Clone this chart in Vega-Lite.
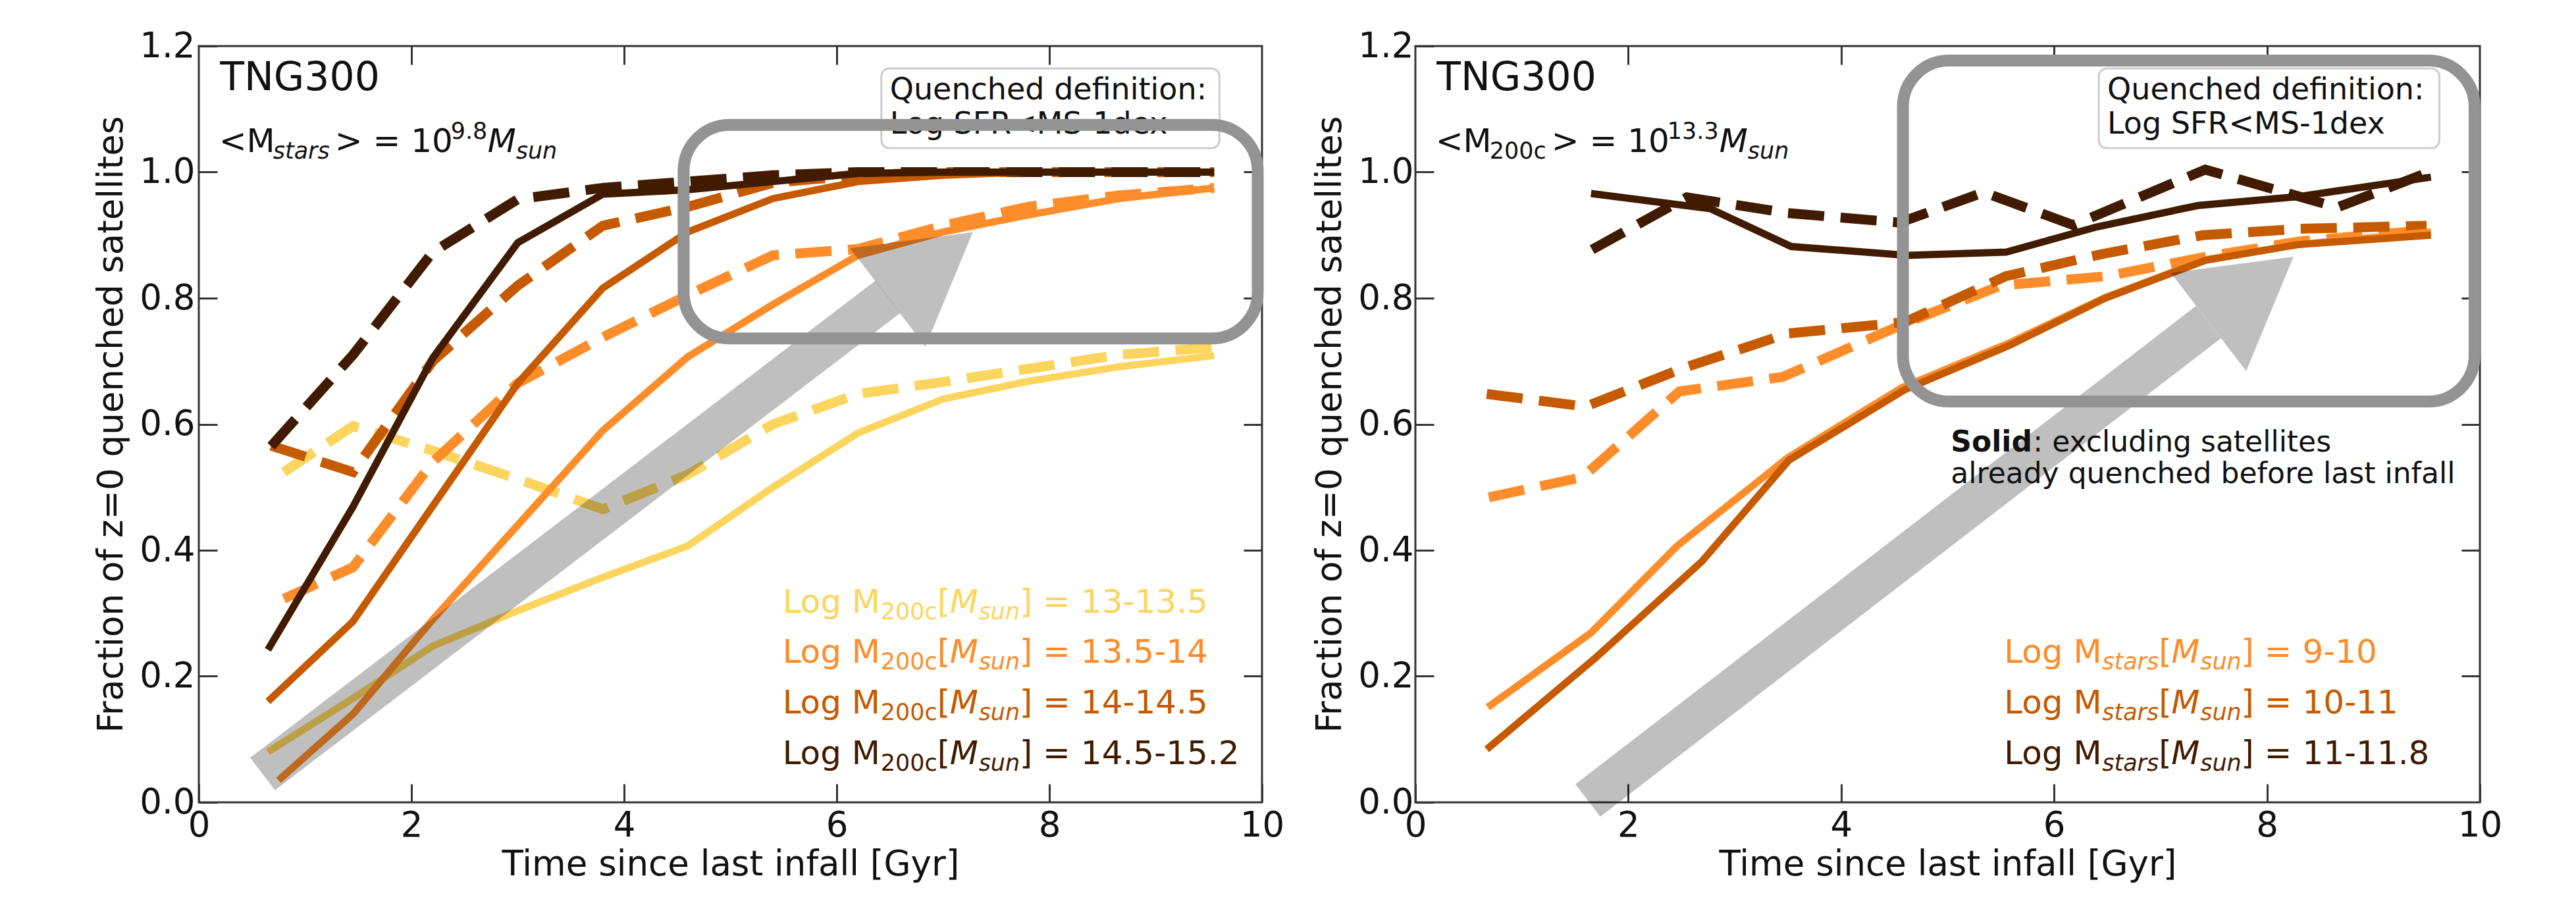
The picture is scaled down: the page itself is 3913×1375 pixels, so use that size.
{
"$schema": "https://vega.github.io/schema/vega-lite/v6.json",
"background": "white",
"padding": {"left": 142, "top": 42, "right": 10, "bottom": 5},
"autosize": {"type": "pad"},
"config": {
  "font": "DejaVu Sans",
  "view": {"stroke": "#333", "strokeWidth": 3},
  "axis": {"domain": false, "grid": false, "tickColor": "#333", "tickWidth": 3, "tickSize": -28,
           "labelFont": "DejaVu Sans", "labelFontSize": 53, "labelColor": "#111", "labelFlush": false, "labelOverlap": false, "labelBound": false,
           "titleFont": "DejaVu Sans", "titleFontSize": 53, "titleFontWeight": "normal", "titleColor": "#111"},
  "text": {"font": "DejaVu Sans", "align": "left", "baseline": "alphabetic", "color": "#111"}
},
"datasets": {
  "lines": [
    {"p":"L","g":"13-13.5","s":"solid","t":0.65,"f":0.08},{"p":"L","g":"13-13.5","s":"solid","t":1.45,"f":0.165},{"p":"L","g":"13-13.5","s":"solid","t":2.2,"f":0.248},{"p":"L","g":"13-13.5","s":"solid","t":3.0,"f":0.304},{"p":"L","g":"13-13.5","s":"solid","t":3.8,"f":0.357},{"p":"L","g":"13-13.5","s":"solid","t":4.6,"f":0.407},{"p":"L","g":"13-13.5","s":"solid","t":5.4,"f":0.5},{"p":"L","g":"13-13.5","s":"solid","t":6.2,"f":0.586},{"p":"L","g":"13-13.5","s":"solid","t":7.0,"f":0.64},{"p":"L","g":"13-13.5","s":"solid","t":7.8,"f":0.668},{"p":"L","g":"13-13.5","s":"solid","t":8.65,"f":0.691},{"p":"L","g":"13-13.5","s":"solid","t":9.55,"f":0.709},
    {"p":"L","g":"13-13.5","s":"dashed","t":0.8,"f":0.524},{"p":"L","g":"13-13.5","s":"dashed","t":1.45,"f":0.597},{"p":"L","g":"13-13.5","s":"dashed","t":2.2,"f":0.558},{"p":"L","g":"13-13.5","s":"dashed","t":3.0,"f":0.513},{"p":"L","g":"13-13.5","s":"dashed","t":3.8,"f":0.465},{"p":"L","g":"13-13.5","s":"dashed","t":4.6,"f":0.52},{"p":"L","g":"13-13.5","s":"dashed","t":5.4,"f":0.6},{"p":"L","g":"13-13.5","s":"dashed","t":6.2,"f":0.648},{"p":"L","g":"13-13.5","s":"dashed","t":7.0,"f":0.667},{"p":"L","g":"13-13.5","s":"dashed","t":7.8,"f":0.688},{"p":"L","g":"13-13.5","s":"dashed","t":8.65,"f":0.71},{"p":"L","g":"13-13.5","s":"dashed","t":9.55,"f":0.722},
    {"p":"L","g":"13.5-14","s":"solid","t":0.75,"f":0.035},{"p":"L","g":"13.5-14","s":"solid","t":1.45,"f":0.14},{"p":"L","g":"13.5-14","s":"solid","t":2.2,"f":0.29},{"p":"L","g":"13.5-14","s":"solid","t":3.0,"f":0.44},{"p":"L","g":"13.5-14","s":"solid","t":3.8,"f":0.59},{"p":"L","g":"13.5-14","s":"solid","t":4.6,"f":0.707},{"p":"L","g":"13.5-14","s":"solid","t":5.4,"f":0.79},{"p":"L","g":"13.5-14","s":"solid","t":6.2,"f":0.868},{"p":"L","g":"13.5-14","s":"solid","t":7.0,"f":0.905},{"p":"L","g":"13.5-14","s":"solid","t":7.8,"f":0.932},{"p":"L","g":"13.5-14","s":"solid","t":8.65,"f":0.958},{"p":"L","g":"13.5-14","s":"solid","t":9.55,"f":0.975},
    {"p":"L","g":"13.5-14","s":"dashed","t":0.8,"f":0.323},{"p":"L","g":"13.5-14","s":"dashed","t":1.45,"f":0.373},{"p":"L","g":"13.5-14","s":"dashed","t":2.2,"f":0.54},{"p":"L","g":"13.5-14","s":"dashed","t":3.0,"f":0.665},{"p":"L","g":"13.5-14","s":"dashed","t":3.8,"f":0.738},{"p":"L","g":"13.5-14","s":"dashed","t":4.6,"f":0.805},{"p":"L","g":"13.5-14","s":"dashed","t":5.4,"f":0.868},{"p":"L","g":"13.5-14","s":"dashed","t":6.2,"f":0.878},{"p":"L","g":"13.5-14","s":"dashed","t":7.0,"f":0.915},{"p":"L","g":"13.5-14","s":"dashed","t":7.8,"f":0.945},{"p":"L","g":"13.5-14","s":"dashed","t":8.65,"f":0.963},{"p":"L","g":"13.5-14","s":"dashed","t":9.55,"f":0.975},
    {"p":"L","g":"14-14.5","s":"solid","t":0.65,"f":0.16},{"p":"L","g":"14-14.5","s":"solid","t":1.45,"f":0.287},{"p":"L","g":"14-14.5","s":"solid","t":2.2,"f":0.47},{"p":"L","g":"14-14.5","s":"solid","t":3.0,"f":0.665},{"p":"L","g":"14-14.5","s":"solid","t":3.8,"f":0.816},{"p":"L","g":"14-14.5","s":"solid","t":4.6,"f":0.905},{"p":"L","g":"14-14.5","s":"solid","t":5.4,"f":0.958},{"p":"L","g":"14-14.5","s":"solid","t":6.2,"f":0.985},{"p":"L","g":"14-14.5","s":"solid","t":7.0,"f":0.995},{"p":"L","g":"14-14.5","s":"solid","t":7.8,"f":1.0},{"p":"L","g":"14-14.5","s":"solid","t":8.65,"f":1.0},{"p":"L","g":"14-14.5","s":"solid","t":9.55,"f":1.0},
    {"p":"L","g":"14-14.5","s":"dashed","t":0.68,"f":0.566},{"p":"L","g":"14-14.5","s":"dashed","t":1.45,"f":0.524},{"p":"L","g":"14-14.5","s":"dashed","t":2.2,"f":0.7},{"p":"L","g":"14-14.5","s":"dashed","t":3.0,"f":0.82},{"p":"L","g":"14-14.5","s":"dashed","t":3.8,"f":0.915},{"p":"L","g":"14-14.5","s":"dashed","t":4.6,"f":0.945},{"p":"L","g":"14-14.5","s":"dashed","t":5.4,"f":0.983},{"p":"L","g":"14-14.5","s":"dashed","t":6.2,"f":0.995},{"p":"L","g":"14-14.5","s":"dashed","t":7.0,"f":1.0},{"p":"L","g":"14-14.5","s":"dashed","t":7.8,"f":1.0},{"p":"L","g":"14-14.5","s":"dashed","t":8.65,"f":1.0},{"p":"L","g":"14-14.5","s":"dashed","t":9.55,"f":1.0},
    {"p":"L","g":"14.5-15.2","s":"solid","t":0.65,"f":0.242},{"p":"L","g":"14.5-15.2","s":"solid","t":1.45,"f":0.469},{"p":"L","g":"14.5-15.2","s":"solid","t":2.2,"f":0.705},{"p":"L","g":"14.5-15.2","s":"solid","t":3.0,"f":0.888},{"p":"L","g":"14.5-15.2","s":"solid","t":3.8,"f":0.965},{"p":"L","g":"14.5-15.2","s":"solid","t":4.6,"f":0.972},{"p":"L","g":"14.5-15.2","s":"solid","t":5.4,"f":0.985},{"p":"L","g":"14.5-15.2","s":"solid","t":6.2,"f":0.998},{"p":"L","g":"14.5-15.2","s":"solid","t":7.0,"f":1.0},{"p":"L","g":"14.5-15.2","s":"solid","t":7.8,"f":1.0},{"p":"L","g":"14.5-15.2","s":"solid","t":8.65,"f":1.0},{"p":"L","g":"14.5-15.2","s":"solid","t":9.55,"f":1.0},
    {"p":"L","g":"14.5-15.2","s":"dashed","t":0.68,"f":0.565},{"p":"L","g":"14.5-15.2","s":"dashed","t":1.45,"f":0.71},{"p":"L","g":"14.5-15.2","s":"dashed","t":2.2,"f":0.873},{"p":"L","g":"14.5-15.2","s":"dashed","t":3.0,"f":0.957},{"p":"L","g":"14.5-15.2","s":"dashed","t":3.8,"f":0.975},{"p":"L","g":"14.5-15.2","s":"dashed","t":4.6,"f":0.985},{"p":"L","g":"14.5-15.2","s":"dashed","t":5.4,"f":0.995},{"p":"L","g":"14.5-15.2","s":"dashed","t":6.2,"f":1.0},{"p":"L","g":"14.5-15.2","s":"dashed","t":7.0,"f":1.0},{"p":"L","g":"14.5-15.2","s":"dashed","t":7.8,"f":1.0},{"p":"L","g":"14.5-15.2","s":"dashed","t":8.65,"f":1.0},{"p":"L","g":"14.5-15.2","s":"dashed","t":9.55,"f":1.0},
    {"p":"R","g":"9-10","s":"solid","t":0.68,"f":0.151},{"p":"R","g":"9-10","s":"solid","t":1.65,"f":0.269},{"p":"R","g":"9-10","s":"solid","t":2.46,"f":0.407},{"p":"R","g":"9-10","s":"solid","t":3.5,"f":0.547},{"p":"R","g":"9-10","s":"solid","t":4.57,"f":0.658},{"p":"R","g":"9-10","s":"solid","t":5.58,"f":0.729},{"p":"R","g":"9-10","s":"solid","t":6.48,"f":0.801},{"p":"R","g":"9-10","s":"solid","t":7.42,"f":0.861},{"p":"R","g":"9-10","s":"solid","t":8.29,"f":0.885},{"p":"R","g":"9-10","s":"solid","t":9.54,"f":0.905},
    {"p":"R","g":"10-11","s":"solid","t":0.67,"f":0.084},{"p":"R","g":"10-11","s":"solid","t":1.69,"f":0.229},{"p":"R","g":"10-11","s":"solid","t":2.69,"f":0.382},{"p":"R","g":"10-11","s":"solid","t":3.51,"f":0.543},{"p":"R","g":"10-11","s":"solid","t":4.6,"f":0.655},{"p":"R","g":"10-11","s":"solid","t":5.58,"f":0.725},{"p":"R","g":"10-11","s":"solid","t":6.48,"f":0.8},{"p":"R","g":"10-11","s":"solid","t":7.42,"f":0.86},{"p":"R","g":"10-11","s":"solid","t":8.29,"f":0.885},{"p":"R","g":"10-11","s":"solid","t":9.54,"f":0.9},
    {"p":"R","g":"9-10","s":"dashed","t":0.69,"f":0.484},{"p":"R","g":"9-10","s":"dashed","t":1.57,"f":0.516},{"p":"R","g":"9-10","s":"dashed","t":2.48,"f":0.652},{"p":"R","g":"9-10","s":"dashed","t":3.45,"f":0.675},{"p":"R","g":"9-10","s":"dashed","t":4.6,"f":0.76},{"p":"R","g":"9-10","s":"dashed","t":5.5,"f":0.82},{"p":"R","g":"9-10","s":"dashed","t":6.5,"f":0.835},{"p":"R","g":"9-10","s":"dashed","t":7.4,"f":0.865},{"p":"R","g":"9-10","s":"dashed","t":8.3,"f":0.89},{"p":"R","g":"9-10","s":"dashed","t":9.5,"f":0.908},
    {"p":"R","g":"10-11","s":"dashed","t":0.67,"f":0.648},{"p":"R","g":"10-11","s":"dashed","t":1.6,"f":0.628},{"p":"R","g":"10-11","s":"dashed","t":2.5,"f":0.688},{"p":"R","g":"10-11","s":"dashed","t":3.5,"f":0.744},{"p":"R","g":"10-11","s":"dashed","t":4.6,"f":0.762},{"p":"R","g":"10-11","s":"dashed","t":5.55,"f":0.835},{"p":"R","g":"10-11","s":"dashed","t":6.45,"f":0.87},{"p":"R","g":"10-11","s":"dashed","t":7.4,"f":0.9},{"p":"R","g":"10-11","s":"dashed","t":8.3,"f":0.91},{"p":"R","g":"10-11","s":"dashed","t":9.5,"f":0.915},
    {"p":"R","g":"11-11.8","s":"solid","t":1.65,"f":0.966},{"p":"R","g":"11-11.8","s":"solid","t":2.77,"f":0.942},{"p":"R","g":"11-11.8","s":"solid","t":3.53,"f":0.882},{"p":"R","g":"11-11.8","s":"solid","t":4.62,"f":0.868},{"p":"R","g":"11-11.8","s":"solid","t":5.55,"f":0.873},{"p":"R","g":"11-11.8","s":"solid","t":6.4,"f":0.913},{"p":"R","g":"11-11.8","s":"solid","t":7.35,"f":0.947},{"p":"R","g":"11-11.8","s":"solid","t":8.29,"f":0.961},{"p":"R","g":"11-11.8","s":"solid","t":9.54,"f":0.992},
    {"p":"R","g":"11-11.8","s":"dashed","t":1.66,"f":0.877},{"p":"R","g":"11-11.8","s":"dashed","t":2.55,"f":0.96},{"p":"R","g":"11-11.8","s":"dashed","t":3.5,"f":0.935},{"p":"R","g":"11-11.8","s":"dashed","t":4.55,"f":0.92},{"p":"R","g":"11-11.8","s":"dashed","t":5.34,"f":0.968},{"p":"R","g":"11-11.8","s":"dashed","t":6.18,"f":0.916},{"p":"R","g":"11-11.8","s":"dashed","t":7.42,"f":1.004},{"p":"R","g":"11-11.8","s":"dashed","t":8.66,"f":0.944},{"p":"R","g":"11-11.8","s":"dashed","t":9.52,"f":1.0}
  ],
  "legL": [
    {"g":"13-13.5","x":5.49,"y":0.301,"l1":"Log M","l2":"200c","l3":"[","l4":"M","l5":"sun","l6":"] = 13-13.5"},
    {"g":"13.5-14","x":5.49,"y":0.2214,"l1":"Log M","l2":"200c","l3":"[","l4":"M","l5":"sun","l6":"] = 13.5-14"},
    {"g":"14-14.5","x":5.49,"y":0.141,"l1":"Log M","l2":"200c","l3":"[","l4":"M","l5":"sun","l6":"] = 14-14.5"},
    {"g":"14.5-15.2","x":5.49,"y":0.0609,"l1":"Log M","l2":"200c","l3":"[","l4":"M","l5":"sun","l6":"] = 14.5-15.2"}
  ],
  "legR": [
    {"g":"9-10","x":5.53,"y":0.2214,"l1":"Log M","l2":"stars","l3":"[","l4":"M","l5":"sun","l6":"] = 9-10"},
    {"g":"10-11","x":5.53,"y":0.141,"l1":"Log M","l2":"stars","l3":"[","l4":"M","l5":"sun","l6":"] = 10-11"},
    {"g":"11-11.8","x":5.53,"y":0.0609,"l1":"Log M","l2":"stars","l3":"[","l4":"M","l5":"sun","l6":"] = 11-11.8"}
  ]
},
"resolve": {"scale": {"color": "independent", "x": "independent", "y": "independent"}},
"bounds": "flush",
"spacing": 233,
"hconcat": [
{
  "width": 1615, "height": 1149,
  "resolve": {"axis": {"x": "independent", "y": "independent"}},
  "layer": [
    {"data": {"name": "lines"}, "transform": [{"filter": "datum.p == 'L' && datum.s == 'dashed'"}],
     "mark": {"type": "line", "strokeWidth": 15, "strokeDash": [55, 25]},
     "encoding": {
       "x": {"field": "t", "type": "quantitative", "scale": {"domain": [0, 10], "nice": false, "zero": false},
             "axis": {"orient": "bottom", "values": [0, 2, 4, 6, 8, 10], "format": "d", "title": "Time since last infall [Gyr]", "labelPadding": 37, "titlePadding": 6}},
       "y": {"field": "f", "type": "quantitative", "scale": {"domain": [0, 1.2], "nice": false, "zero": false},
             "axis": {"orient": "left", "values": [0, 0.2, 0.4, 0.6, 0.8, 1.0, 1.2], "format": ".1f", "title": "Fraction of z=0 quenched satellites", "labelPadding": 34, "titlePadding": 15}},
       "color": {"field": "g", "type": "nominal", "scale": {"domain": ["13-13.5", "13.5-14", "14-14.5", "14.5-15.2"], "range": ["#fcd55f", "#fd8d2a", "#c65a00", "#401b00"]}, "legend": null}
     }},
    {"data": {"name": "lines"}, "transform": [{"filter": "datum.p == 'L' && datum.s == 'solid'"}],
     "mark": {"type": "line", "strokeWidth": 11},
     "encoding": {
       "x": {"field": "t", "type": "quantitative", "axis": {"orient": "top", "values": [2, 4, 6, 8], "labels": false, "title": null}},
       "y": {"field": "f", "type": "quantitative", "axis": {"orient": "right", "values": [0.2, 0.4, 0.6, 0.8, 1.0], "labels": false, "title": null}},
       "color": {"field": "g", "type": "nominal", "legend": null}
     }},
    {"data": {"values": [{"x1": 6.42, "x2": 9.6, "y1": 1.038, "y2": 1.1645}]},
     "mark": {"type": "rect", "fill": "white", "stroke": "#cccccc", "strokeWidth": 3, "cornerRadius": 12},
     "encoding": {"x": {"field": "x1", "type": "quantitative", "axis": null}, "x2": {"field": "x2"}, "y": {"field": "y1", "type": "quantitative", "axis": null}, "y2": {"field": "y2"}}},
    {"data": {"values": [{"x": 6.5, "y": 1.115, "txt": "Quenched definition:"}, {"x": 6.5, "y": 1.061, "txt": "Log SFR<MS-1dex"}]},
     "mark": {"type": "text", "fontSize": 46},
     "encoding": {"x": {"field": "x", "type": "quantitative", "axis": null}, "y": {"field": "y", "type": "quantitative", "axis": null}, "text": {"field": "txt"}}},
    {"data": {"values": [{"x": 0.6, "y": 0.045, "x2": 6.48, "y2": 0.802}]},
     "mark": {"type": "rule", "strokeWidth": 62, "color": "black", "opacity": 0.25, "strokeCap": "butt"},
     "encoding": {"x": {"field": "x", "type": "quantitative", "axis": null}, "y": {"field": "y", "type": "quantitative", "axis": null}, "x2": {"field": "x2"}, "y2": {"field": "y2"}}},
    {"data": {"values": [{"x": 6.88, "y": 0.853}]},
     "mark": {"type": "point", "shape": "triangle-up", "filled": true, "size": 35344, "color": "black", "opacity": 0.25, "angle": 52.5, "strokeWidth": 0},
     "encoding": {"x": {"field": "x", "type": "quantitative", "axis": null}, "y": {"field": "y", "type": "quantitative", "axis": null}}},
    {"data": {"values": [{"x1": 4.56, "x2": 9.96, "y1": 0.736, "y2": 1.075}]},
     "mark": {"type": "rect", "fillOpacity": 0, "stroke": "#939393", "strokeWidth": 18, "cornerRadius": 70},
     "encoding": {"x": {"field": "x1", "type": "quantitative", "axis": null}, "x2": {"field": "x2"}, "y": {"field": "y1", "type": "quantitative", "axis": null}, "y2": {"field": "y2"}}},
    {"data": {"values": [{"x": 0.2, "y": 1.13, "txt": "TNG300"}]},
     "mark": {"type": "text", "fontSize": 60},
     "encoding": {"x": {"field": "x", "type": "quantitative", "axis": null}, "y": {"field": "y", "type": "quantitative", "axis": null}, "text": {"field": "txt"}}},
    {"data": {"values": [{"x": 0.19, "y": 1.0315, "h1": "<M", "h2": "stars", "h3": "> = 10", "h4": "9.8", "h5": "M", "h6": "sun"}]},
     "encoding": {"x": {"field": "x", "type": "quantitative", "axis": null}, "y": {"field": "y", "type": "quantitative", "axis": null}},
     "layer": [
       {"mark": {"type": "text", "fontSize": 50}, "encoding": {"text": {"field": "h1"}}},
       {"mark": {"type": "text", "fontSize": 35, "dx": 82, "dy": 10, "fontStyle": "italic"}, "encoding": {"text": {"field": "h2"}}},
       {"mark": {"type": "text", "fontSize": 50, "dx": 176}, "encoding": {"text": {"field": "h3"}}},
       {"mark": {"type": "text", "fontSize": 35, "dx": 352, "dy": -20}, "encoding": {"text": {"field": "h4"}}},
       {"mark": {"type": "text", "fontSize": 50, "dx": 408, "fontStyle": "italic"}, "encoding": {"text": {"field": "h5"}}},
       {"mark": {"type": "text", "fontSize": 35, "dx": 451, "dy": 10, "fontStyle": "italic"}, "encoding": {"text": {"field": "h6"}}}
     ]},
    {"data": {"name": "legL"},
     "encoding": {"x": {"field": "x", "type": "quantitative", "axis": null}, "y": {"field": "y", "type": "quantitative", "axis": null},
                  "color": {"field": "g", "type": "nominal", "legend": null}},
     "layer": [
       {"mark": {"type": "text", "fontSize": 50}, "encoding": {"text": {"field": "l1"}}},
       {"mark": {"type": "text", "fontSize": 35, "dx": 149, "dy": 10}, "encoding": {"text": {"field": "l2"}}},
       {"mark": {"type": "text", "fontSize": 50, "dx": 235}, "encoding": {"text": {"field": "l3"}}},
       {"mark": {"type": "text", "fontSize": 50, "dx": 254, "fontStyle": "italic"}, "encoding": {"text": {"field": "l4"}}},
       {"mark": {"type": "text", "fontSize": 35, "dx": 298, "dy": 10, "fontStyle": "italic"}, "encoding": {"text": {"field": "l5"}}},
       {"mark": {"type": "text", "fontSize": 50, "dx": 360}, "encoding": {"text": {"field": "l6"}}}
     ]}
  ]
},
{
  "width": 1617, "height": 1149,
  "resolve": {"axis": {"x": "independent", "y": "independent"}},
  "layer": [
    {"data": {"name": "lines"}, "transform": [{"filter": "datum.p == 'R' && datum.s == 'dashed'"}],
     "mark": {"type": "line", "strokeWidth": 15, "strokeDash": [55, 25]},
     "encoding": {
       "x": {"field": "t", "type": "quantitative", "scale": {"domain": [0, 10], "nice": false, "zero": false},
             "axis": {"orient": "bottom", "values": [0, 2, 4, 6, 8, 10], "format": "d", "title": "Time since last infall [Gyr]", "labelPadding": 37, "titlePadding": 6}},
       "y": {"field": "f", "type": "quantitative", "scale": {"domain": [0, 1.2], "nice": false, "zero": false},
             "axis": {"orient": "left", "values": [0, 0.2, 0.4, 0.6, 0.8, 1.0, 1.2], "format": ".1f", "title": "Fraction of z=0 quenched satellites", "labelPadding": 31, "titlePadding": 15}},
       "color": {"field": "g", "type": "nominal", "scale": {"domain": ["9-10", "10-11", "11-11.8"], "range": ["#fd8d2a", "#c65a00", "#401b00"]}, "legend": null}
     }},
    {"data": {"name": "lines"}, "transform": [{"filter": "datum.p == 'R' && datum.s == 'solid'"}],
     "mark": {"type": "line", "strokeWidth": 11},
     "encoding": {
       "x": {"field": "t", "type": "quantitative", "axis": {"orient": "top", "values": [2, 4, 6, 8], "labels": false, "title": null}},
       "y": {"field": "f", "type": "quantitative", "axis": {"orient": "right", "values": [0.2, 0.4, 0.6, 0.8, 1.0], "labels": false, "title": null}},
       "color": {"field": "g", "type": "nominal", "legend": null}
     }},
    {"data": {"values": [{"x1": 6.42, "x2": 9.62, "y1": 1.038, "y2": 1.1645}]},
     "mark": {"type": "rect", "fill": "white", "stroke": "#cccccc", "strokeWidth": 3, "cornerRadius": 12},
     "encoding": {"x": {"field": "x1", "type": "quantitative", "axis": null}, "x2": {"field": "x2"}, "y": {"field": "y1", "type": "quantitative", "axis": null}, "y2": {"field": "y2"}}},
    {"data": {"values": [{"x": 6.5, "y": 1.115, "txt": "Quenched definition:"}, {"x": 6.5, "y": 1.061, "txt": "Log SFR<MS-1dex"}]},
     "mark": {"type": "text", "fontSize": 46},
     "encoding": {"x": {"field": "x", "type": "quantitative", "axis": null}, "y": {"field": "y", "type": "quantitative", "axis": null}, "text": {"field": "txt"}}},
    {"data": {"values": [{"x": 1.62, "y": 0.003, "x2": 7.45, "y2": 0.762}]},
     "mark": {"type": "rule", "strokeWidth": 62, "color": "black", "opacity": 0.25, "strokeCap": "butt"},
     "encoding": {"x": {"field": "x", "type": "quantitative", "axis": null}, "y": {"field": "y", "type": "quantitative", "axis": null}, "x2": {"field": "x2"}, "y2": {"field": "y2"}}},
    {"data": {"values": [{"x": 7.85, "y": 0.814}]},
     "mark": {"type": "point", "shape": "triangle-up", "filled": true, "size": 35344, "color": "black", "opacity": 0.25, "angle": 52.5, "strokeWidth": 0},
     "encoding": {"x": {"field": "x", "type": "quantitative", "axis": null}, "y": {"field": "y", "type": "quantitative", "axis": null}}},
    {"data": {"values": [{"x1": 4.58, "x2": 9.95, "y1": 0.636, "y2": 1.177}]},
     "mark": {"type": "rect", "fillOpacity": 0, "stroke": "#939393", "strokeWidth": 18, "cornerRadius": 70},
     "encoding": {"x": {"field": "x1", "type": "quantitative", "axis": null}, "x2": {"field": "x2"}, "y": {"field": "y1", "type": "quantitative", "axis": null}, "y2": {"field": "y2"}}},
    {"data": {"values": [{"x": 0.2, "y": 1.13, "txt": "TNG300"}]},
     "mark": {"type": "text", "fontSize": 60},
     "encoding": {"x": {"field": "x", "type": "quantitative", "axis": null}, "y": {"field": "y", "type": "quantitative", "axis": null}, "text": {"field": "txt"}}},
    {"data": {"values": [{"x": 0.19, "y": 1.0315, "h1": "<M", "h2": "200c", "h3": "> = 10", "h4": "13.3", "h5": "M", "h6": "sun"}]},
     "encoding": {"x": {"field": "x", "type": "quantitative", "axis": null}, "y": {"field": "y", "type": "quantitative", "axis": null}},
     "layer": [
       {"mark": {"type": "text", "fontSize": 50}, "encoding": {"text": {"field": "h1"}}},
       {"mark": {"type": "text", "fontSize": 35, "dx": 82, "dy": 10}, "encoding": {"text": {"field": "h2"}}},
       {"mark": {"type": "text", "fontSize": 50, "dx": 176}, "encoding": {"text": {"field": "h3"}}},
       {"mark": {"type": "text", "fontSize": 35, "dx": 352, "dy": -20}, "encoding": {"text": {"field": "h4"}}},
       {"mark": {"type": "text", "fontSize": 50, "dx": 431, "fontStyle": "italic"}, "encoding": {"text": {"field": "h5"}}},
       {"mark": {"type": "text", "fontSize": 35, "dx": 474, "dy": 10, "fontStyle": "italic"}, "encoding": {"text": {"field": "h6"}}}
     ]},
    {"data": {"values": [{"x": 5.03, "y": 0.5565}]},
     "encoding": {"x": {"field": "x", "type": "quantitative", "axis": null}, "y": {"field": "y", "type": "quantitative", "axis": null}},
     "layer": [
       {"mark": {"type": "text", "fontSize": 44, "fontWeight": "bold", "text": "Solid"}},
       {"mark": {"type": "text", "fontSize": 44, "dx": 125, "text": ": excluding satellites"}}
     ]},
    {"data": {"values": [{"x": 5.03, "y": 0.5065, "txt": "already quenched before last infall"}]},
     "mark": {"type": "text", "fontSize": 44},
     "encoding": {"x": {"field": "x", "type": "quantitative", "axis": null}, "y": {"field": "y", "type": "quantitative", "axis": null}, "text": {"field": "txt"}}},
    {"data": {"name": "legR"},
     "encoding": {"x": {"field": "x", "type": "quantitative", "axis": null}, "y": {"field": "y", "type": "quantitative", "axis": null},
                  "color": {"field": "g", "type": "nominal", "legend": null}},
     "layer": [
       {"mark": {"type": "text", "fontSize": 50}, "encoding": {"text": {"field": "l1"}}},
       {"mark": {"type": "text", "fontSize": 35, "dx": 149, "dy": 10, "fontStyle": "italic"}, "encoding": {"text": {"field": "l2"}}},
       {"mark": {"type": "text", "fontSize": 50, "dx": 235}, "encoding": {"text": {"field": "l3"}}},
       {"mark": {"type": "text", "fontSize": 50, "dx": 254, "fontStyle": "italic"}, "encoding": {"text": {"field": "l4"}}},
       {"mark": {"type": "text", "fontSize": 35, "dx": 298, "dy": 10, "fontStyle": "italic"}, "encoding": {"text": {"field": "l5"}}},
       {"mark": {"type": "text", "fontSize": 50, "dx": 360}, "encoding": {"text": {"field": "l6"}}}
     ]}
  ]
}
]
}
